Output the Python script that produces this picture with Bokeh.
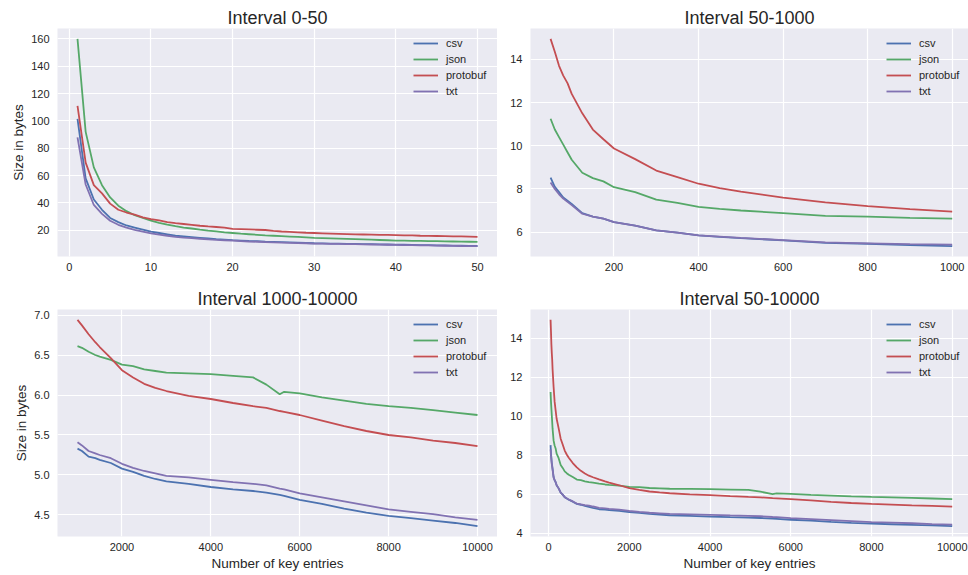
from bokeh.plotting import figure
from bokeh.layouts import row, column
from bokeh.models import Range1d, FixedTicker, Legend, LegendItem, NumeralTickFormatter
from bokeh.embed import file_html
from bokeh.resources import INLINE

FORMATS = ["csv", "json", "protobuf", "txt"]
COLORS = ["#4C72B0", "#55A868", "#C44E52", "#8172B2"]

# ---- Interval 0-50 ----
x1 = list(range(1, 51))
csv1 = [101.5, 58, 42.5, 35, 29, 26, 23.5, 22, 20.5, 19, 18, 17, 16, 15.5, 15, 14.5, 14, 13.5, 13.2, 12.8,
        12.5, 12.2, 12, 11.7, 11.5, 11.3, 11.1, 10.9, 10.7, 10.5, 10.4, 10.3, 10.2, 10.1, 10, 9.9, 9.8, 9.7,
        9.6, 9.5, 9.4, 9.3, 9.2, 9.1, 9.0, 8.9, 8.8, 8.7, 8.6, 8.5]
json1 = [160, 92, 66, 53, 44, 38, 34, 31, 29, 27, 25.5, 24.2, 23, 22, 21.3, 20.5, 19.8, 19.2, 18.5, 18,
         17.5, 17.1, 16.7, 16.3, 16, 15.7, 15.4, 15.1, 14.8, 14.5, 14.3, 14.1, 13.9, 13.7, 13.5, 13.3, 13.1,
         12.9, 12.7, 12.5, 12.4, 12.3, 12.2, 12.1, 12, 11.9, 11.8, 11.7, 11.6, 11.5]
protobuf1 = [111, 69.5, 53, 47, 39.5, 35, 33, 31.5, 29.5, 28.2, 27.2, 26, 25.2, 24.6, 24, 23.3, 22.8, 22.4,
             22, 21, 20.8, 20.6, 20.4, 20.2, 19.6, 19.1, 18.8, 18.5, 18.2, 18, 17.8, 17.6, 17.4, 17.2, 17,
             16.9, 16.8, 16.7, 16.6, 16.5, 16.3, 16.2, 16.0, 15.9, 15.8, 15.7, 15.6, 15.5, 15.4, 15.2]
txt1 = [88, 53.5, 38.5, 32, 27, 24, 22, 20.3, 19, 17.8, 16.8, 16, 15.2, 14.6, 14.2, 13.8, 13.4, 13, 12.7,
        12.4, 12.1, 11.8, 11.6, 11.4, 11.2, 11, 10.8, 10.6, 10.5, 10.3, 10.2, 10.1, 10, 9.9, 9.8, 9.7, 9.6,
        9.5, 9.4, 9.3, 9.2, 9.1, 9.0, 8.9, 8.8, 8.7, 8.6, 8.5, 8.45, 8.4]

# ---- Interval 50-1000 ----
x2 = [50, 60, 70, 80, 90, 100, 125, 150, 175, 200, 250, 300, 350, 400, 450, 500, 600, 700, 800, 900, 1000]
csv2 = [8.52, 8.1, 7.85, 7.6, 7.45, 7.3, 6.88, 6.72, 6.62, 6.46, 6.3, 6.08, 5.98, 5.85, 5.78, 5.72, 5.62,
        5.5, 5.46, 5.4, 5.35]
json2 = [11.25, 10.75, 10.4, 10.05, 9.7, 9.35, 8.75, 8.5, 8.35, 8.08, 7.85, 7.5, 7.35, 7.17, 7.08, 7.0,
         6.88, 6.75, 6.72, 6.66, 6.62]
protobuf2 = [14.95, 14.35, 13.7, 13.25, 12.9, 12.4, 11.5, 10.75, 10.3, 9.87, 9.38, 8.85, 8.55, 8.24, 8.04,
             7.87, 7.6, 7.38, 7.2, 7.06, 6.95]
txt2 = [8.3, 8.0, 7.75, 7.55, 7.4, 7.25, 6.85, 6.72, 6.62, 6.46, 6.3, 6.08, 5.98, 5.85, 5.79, 5.73, 5.63,
        5.52, 5.48, 5.44, 5.42]

# ---- Interval 1000-10000 ----
x3 = [1000, 1100, 1250, 1400, 1500, 1750, 2000, 2250, 2500, 2750, 3000, 3500, 4000, 4500, 4950, 5250,
      5550, 5650, 6000, 6500, 7000, 7500, 8000, 8500, 9000, 9500, 10000]
csv3 = [5.33, 5.3, 5.23, 5.21, 5.19, 5.15, 5.08, 5.04, 4.99, 4.95, 4.92, 4.89, 4.85, 4.82, 4.8, 4.78,
        4.75, 4.74, 4.69, 4.64, 4.58, 4.53, 4.49, 4.46, 4.43, 4.4, 4.36]
json3 = [6.61, 6.59, 6.54, 6.5, 6.48, 6.44, 6.38, 6.36, 6.32, 6.3, 6.28, 6.27, 6.26, 6.24, 6.22, 6.13,
         6.01, 6.04, 6.02, 5.97, 5.93, 5.89, 5.86, 5.84, 5.81, 5.78, 5.75]
protobuf3 = [6.94, 6.87, 6.76, 6.66, 6.6, 6.46, 6.31, 6.22, 6.14, 6.09, 6.05, 5.99, 5.95, 5.9, 5.86, 5.84,
             5.8, 5.79, 5.75, 5.68, 5.61, 5.55, 5.5, 5.47, 5.43, 5.4, 5.36]
txt3 = [5.41, 5.37, 5.3, 5.27, 5.25, 5.21, 5.14, 5.09, 5.05, 5.02, 4.99, 4.97, 4.94, 4.91, 4.89, 4.87,
        4.83, 4.82, 4.77, 4.72, 4.67, 4.62, 4.57, 4.54, 4.51, 4.47, 4.44]

# ---- Interval 50-10000 (the two intervals above joined) ----
x4 = x2 + x3[1:]
csv4 = csv2 + csv3[1:]
json4 = json2 + json3[1:]
protobuf4 = protobuf2 + protobuf3[1:]
txt4 = txt2 + txt3[1:]

titles = ["Interval 0-50", "Interval 50-1000", "Interval 1000-10000", "Interval 50-10000"]
xticks = [[0, 10, 20, 30, 40, 50], [200, 400, 600, 800, 1000],
          [2000, 4000, 6000, 8000, 10000], [0, 2000, 4000, 6000, 8000, 10000]]
yticks = [[20, 40, 60, 80, 100, 120, 140, 160], [6, 8, 10, 12, 14],
          [4.5, 5.0, 5.5, 6.0, 6.5, 7.0], [4, 6, 8, 10, 12, 14]]
ylabel = "Size in bytes"
xlabel = "Number of key entries"

FONT = "Liberation Sans"
TEXT = "#262626"


def padded(vals, frac=0.05):
    lo, hi = min(vals), max(vals)
    s = hi - lo
    return lo - frac * s, hi + frac * s


def make(i, xs, series, left_b, frame_w, top_b, frame_h, bottom_b, x_end_trim=0.0,
         show_y=False, show_x=False, yfmt=None):
    ally = [v for s in series for v in s]
    x0, x1_ = padded(xs)
    y0, y1 = padded(ally)
    x1_ = x1_ - x_end_trim * (x1_ - x0)
    p = figure(frame_width=frame_w, frame_height=frame_h, min_border_left=left_b, min_border_right=0,
               min_border_top=top_b, min_border_bottom=bottom_b,
               x_range=Range1d(x0, x1_), y_range=Range1d(y0, y1),
               output_backend="svg", toolbar_location=None, title=titles[i])
    p.background_fill_color = "#EAEAF2"
    p.border_fill_color = "white"
    p.outline_line_color = None
    p.title.text_font = FONT
    p.title.text_font_size = "18px"
    p.title.text_font_style = "normal"
    p.title.text_color = TEXT
    p.title.align = "center"
    p.title.standoff = 2
    p.title.offset = 0
    for ax in (p.xaxis[0], p.yaxis[0]):
        ax.axis_line_color = None
        ax.major_tick_line_color = None
        ax.minor_tick_line_color = None
        ax.major_label_text_font = FONT
        ax.major_label_text_font_size = "11px"
        ax.major_label_text_color = TEXT
        ax.axis_label_text_font = FONT
        ax.axis_label_text_font_size = "13.5px"
        ax.axis_label_text_font_style = "normal"
        ax.axis_label_text_color = TEXT
        ax.major_tick_out = 0
        ax.major_tick_in = 0
    p.xaxis[0].ticker = FixedTicker(ticks=xticks[i])
    p.yaxis[0].ticker = FixedTicker(ticks=yticks[i])
    p.xaxis[0].major_label_standoff = 6
    p.yaxis[0].major_label_standoff = 8
    p.xaxis[0].axis_label_standoff = 2
    p.yaxis[0].axis_label_standoff = 2
    if yfmt is not None:
        p.yaxis[0].formatter = NumeralTickFormatter(format=yfmt)
    if show_y:
        p.yaxis[0].axis_label = ylabel
    if show_x:
        p.xaxis[0].axis_label = xlabel
    for g in (p.xgrid[0], p.ygrid[0]):
        g.grid_line_color = "white"
        g.grid_line_width = 1.2
    items = []
    for name, col, ys in zip(FORMATS, COLORS, series):
        r = p.line(xs, ys, line_color=col, line_width=1.8)
        items.append(LegendItem(label=name, renderers=[r]))
    leg = Legend(items=items, location=(350, frame_h - 77), margin=0, padding=6, spacing=0,
                 glyph_width=25, glyph_height=16, label_height=16, label_standoff=8,
                 label_text_font=FONT, label_text_font_size="11px", label_text_color=TEXT,
                 border_line_alpha=0, background_fill_alpha=0)
    p.add_layout(leg)
    return p


p1 = make(0, x1, [csv1, json1, protobuf1, txt1], 57, 440, 28, 228, 29, show_y=True)
p2 = make(1, x2, [csv2, json2, protobuf2, txt2], 33, 438, 28, 228, 29, x_end_trim=0.0086)
p3 = make(2, x3, [csv3, json3, protobuf3, txt3], 57, 440, 22, 227, 41, show_y=True, show_x=True,
          yfmt="0.0")
p4 = make(3, x4, [csv4, json4, protobuf4, txt4], 33, 438, 22, 227, 41, x_end_trim=0.0086, show_x=True)

layout = column(row(p1, p2), row(p3, p4))

with open("out.html", "w") as f:
    f.write(file_html(layout, INLINE))
